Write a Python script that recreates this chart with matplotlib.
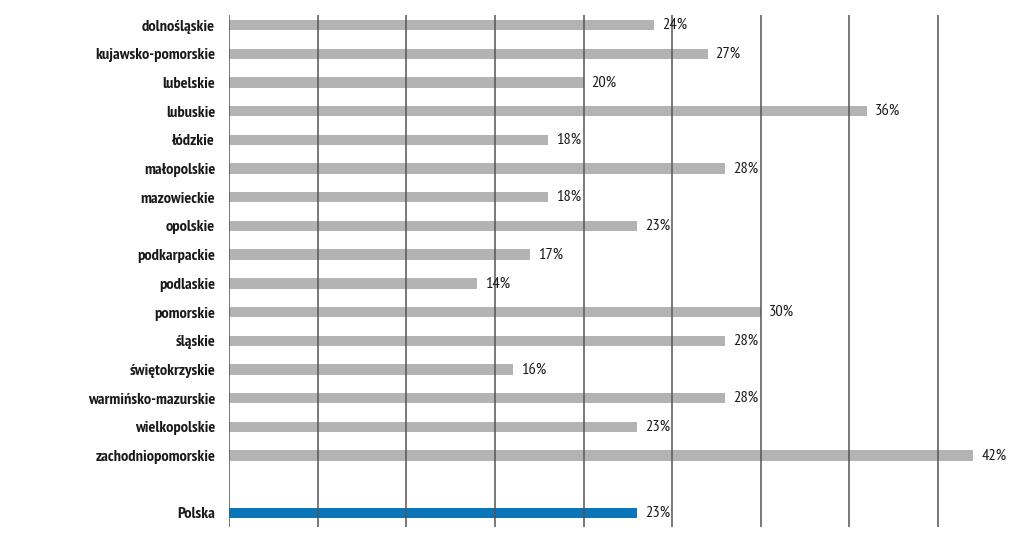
import matplotlib.pyplot as plt

# Dane
regions = ["dolnośląskie", "kujawsko-pomorskie", "lubelskie", "lubuskie", "łódzkie",
           "małopolskie", "mazowieckie", "opolskie", "podkarpackie", "podlaskie",
           "pomorskie", "śląskie", "świętokrzyskie", "warmińsko-mazurskie",
           "wielkopolskie", "zachodniopomorskie"]
values = [24, 27, 20, 36, 18, 28, 18, 23, 17, 14, 30, 28, 16, 28, 23, 42]
total_label = "Polska"
total_value = 23

plt.rcParams["font.family"] = ["PT Sans Narrow", "Roboto Condensed", "DejaVu Sans"]

fig = plt.figure(figsize=(10.24, 5.46), dpi=100)
ax = fig.add_axes([229 / 1024, 1 - 527 / 546, 1 - 229 / 1024, 512 / 546])

pos = list(range(len(regions)))
ax.barh(pos, values, height=0.36, color="#b3b3b3", zorder=1)
pol_pos = len(regions) + 1
ax.barh([pol_pos], [total_value], height=0.36, color="#0a75b9", zorder=1)

for p, v in zip(pos + [pol_pos], values + [total_value]):
    ax.text(v + 0.45, p, f"{v}%", va="center", ha="left", fontsize=11.8, color="#1a1a1a")

ax.set_yticks(pos + [pol_pos])
ax.set_yticklabels(regions + [total_label], fontsize=11.8, fontweight="bold", color="#1a1a1a")
ax.tick_params(axis="y", length=0, pad=10)
ax.set_xticks(range(0, 45, 5))
ax.tick_params(axis="x", length=0, labelbottom=False)
ax.grid(axis="x", color="#555555", linewidth=1.1, zorder=2)
ax.set_axisbelow(False)
ax.set_xlim(0, 44.85)
ax.set_ylim(pol_pos + 0.49, -0.35)
for s in ax.spines.values():
    s.set_visible(False)

plt.savefig("out.png", dpi=100)
